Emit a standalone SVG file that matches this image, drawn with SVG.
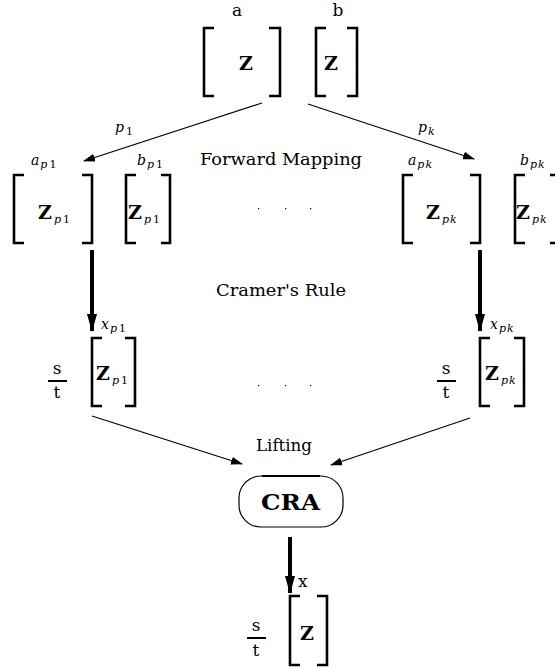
<svg xmlns="http://www.w3.org/2000/svg" width="555" height="669" viewBox="0 0 555 669" font-family="'DejaVu Serif', serif">
<style>
text{font-family:"DejaVu Serif","Liberation Serif",serif;fill:#000}
.br{fill:none;stroke:#000;stroke-width:2.6}
.z{font-weight:bold;font-size:19px}
.lb{font-size:17px}
.it{font-style:italic;font-size:14px}
.sub{font-style:italic;font-size:11px;font-weight:normal}
.sub2{font-size:11px;font-weight:normal;font-style:normal}
.thin{stroke:#000;stroke-width:1.2;fill:none}
.thick{stroke:#000;stroke-width:4;fill:none}
.fr{stroke:#000;stroke-width:2}
</style>
<defs>
<marker id="ah" markerWidth="12" markerHeight="8" refX="11" refY="4" orient="auto" markerUnits="userSpaceOnUse"><path d="M0,0 L12,4 L0,8 Z" fill="#000"/></marker>
<marker id="ahb" markerWidth="18" markerHeight="12" refX="17" refY="5" orient="auto" markerUnits="userSpaceOnUse"><path d="M0,0 L18,5 L0,10 Z" fill="#000"/></marker>
</defs>
<g id="top-a">
<path class="br" d="M214,28 H204 V96 H214"/><path class="br" d="M269,28 H280 V96 H269"/>
<text class="z" x="239" y="70">Z</text><text class="lb" x="237" y="16" text-anchor="middle">a</text>
</g>
<g id="top-b">
<path class="br" d="M326,28 H316 V96 H326"/><path class="br" d="M347,28 H357 V96 H347"/>
<text class="z" x="324" y="70">Z</text><text class="lb" x="338" y="16" text-anchor="middle">b</text>
</g>
<g id="ap1">
<path class="br" d="M24,175 H14 V243 H24"/><path class="br" d="M82,175 H92 V243 H82"/>
<text class="z" x="38" y="219">Z<tspan class="sub" dy="4" dx="2">p</tspan><tspan class="sub2" dx="2">1</tspan></text>
<text class="it" x="31" y="165">a<tspan class="sub" dy="3" dx="1">p</tspan><tspan class="sub2" dx="2">1</tspan></text>
</g>
<g id="bp1">
<path class="br" d="M136,175 H126 V243 H136"/><path class="br" d="M161,175 H170 V243 H161"/>
<text class="z" x="128" y="219">Z<tspan class="sub" dy="4" dx="2">p</tspan><tspan class="sub2" dx="2">1</tspan></text>
<text class="it" x="137" y="165">b<tspan class="sub" dy="3" dx="1">p</tspan><tspan class="sub2" dx="2">1</tspan></text>
</g>
<g id="apk">
<path class="br" d="M413,175 H403 V243 H413"/><path class="br" d="M470,175 H480 V243 H470"/>
<text class="z" x="426" y="219">Z<tspan class="sub" dy="4" dx="2">p</tspan><tspan class="sub" dx="1">k</tspan></text>
<text class="it" x="408" y="165">a<tspan class="sub" dy="3" dx="1">p</tspan><tspan class="sub" dx="1">k</tspan></text>
</g>
<g id="bpk">
<path class="br" d="M525,175 H515 V243 H525"/><path class="br" d="M550,175 H560 V243 H550"/>
<text class="z" x="516" y="219">Z<tspan class="sub" dy="4" dx="2">p</tspan><tspan class="sub" dx="1">k</tspan></text>
<text class="it" x="520" y="165">b<tspan class="sub" dy="3" dx="1">p</tspan><tspan class="sub" dx="1">k</tspan></text>
</g>
<g id="xp1">
<path class="br" d="M102,338 H92 V406 H102"/><path class="br" d="M125,338 H135 V406 H125"/>
<text class="z" x="96" y="380">Z<tspan class="sub" dy="4" dx="2">p</tspan><tspan class="sub2" dx="2">1</tspan></text>
<text class="it" x="101" y="329">x<tspan class="sub" dy="3" dx="1">p</tspan><tspan class="sub2" dx="2">1</tspan></text>
<line class="fr" x1="48" y1="381" x2="67" y2="381"/>
<text class="lb" x="57" y="374" text-anchor="middle">s</text><text class="lb" x="57" y="398" text-anchor="middle">t</text>
</g>
<g id="xpk">
<path class="br" d="M490,338 H480 V406 H490"/><path class="br" d="M514,338 H524 V406 H514"/>
<text class="z" x="485" y="380">Z<tspan class="sub" dy="4" dx="2">p</tspan><tspan class="sub" dx="1">k</tspan></text>
<text class="it" x="490" y="329">x<tspan class="sub" dy="3" dx="1">p</tspan><tspan class="sub" dx="1">k</tspan></text>
<line class="fr" x1="437" y1="381" x2="456" y2="381"/>
<text class="lb" x="446" y="374" text-anchor="middle">s</text><text class="lb" x="446" y="398" text-anchor="middle">t</text>
</g>
<g id="cra">
<rect x="239" y="476" width="104" height="51" rx="22" ry="22" fill="none" stroke="#000" stroke-width="1.2"/>
<rect x="262" y="475" width="58" height="2" fill="#000"/>
<text x="261" y="510" font-weight="bold" font-size="22" textLength="59" lengthAdjust="spacingAndGlyphs">CRA</text>
</g>
<g id="result">
<path class="br" d="M300,596 H290 V665 H300"/><path class="br" d="M317,596 H327 V665 H317"/>
<text class="z" x="300" y="640">Z</text><text class="lb" x="298" y="587">x</text>
<line class="fr" x1="247" y1="638" x2="266" y2="638"/>
<text class="lb" x="256" y="631" text-anchor="middle">s</text><text class="lb" x="256" y="656" text-anchor="middle">t</text>
</g>
<g id="labels">
<text class="lb" x="200" y="165" textLength="162" lengthAdjust="spacingAndGlyphs">Forward Mapping</text>
<text class="lb" x="216" y="296" textLength="130" lengthAdjust="spacingAndGlyphs">Cramer's Rule</text>
<text class="lb" x="256" y="451" textLength="56" lengthAdjust="spacingAndGlyphs">Lifting</text>
<text class="it" x="115" y="132">p<tspan class="sub2" dy="3" dx="2">1</tspan></text>
<text class="it" x="418" y="132">p<tspan class="sub" dy="3" dx="1">k</tspan></text>
<g fill="#000"><rect x="258" y="208" width="1.2" height="1.2"/><rect x="285" y="208" width="1.2" height="1.2"/><rect x="310" y="208" width="1.2" height="1.2"/>
<rect x="258" y="385" width="1.2" height="1.2"/><rect x="285" y="385" width="1.2" height="1.2"/><rect x="310" y="385" width="1.2" height="1.2"/></g>
</g>
<g id="connectors">
<line class="thin" x1="262" y1="103" x2="84" y2="161" marker-end="url(#ah)"/>
<line class="thin" x1="308" y1="104" x2="474" y2="159" marker-end="url(#ah)"/>
<line class="thick" x1="92" y1="250" x2="92" y2="331" marker-end="url(#ahb)"/>
<line class="thick" x1="480" y1="250" x2="480" y2="331" marker-end="url(#ahb)"/>
<line class="thin" x1="92" y1="416" x2="242" y2="464" marker-end="url(#ah)"/>
<line class="thin" x1="470" y1="418" x2="331" y2="465" marker-end="url(#ah)"/>
<line class="thick" x1="290" y1="537" x2="290" y2="593" marker-end="url(#ahb)"/>
</g>
</svg>
